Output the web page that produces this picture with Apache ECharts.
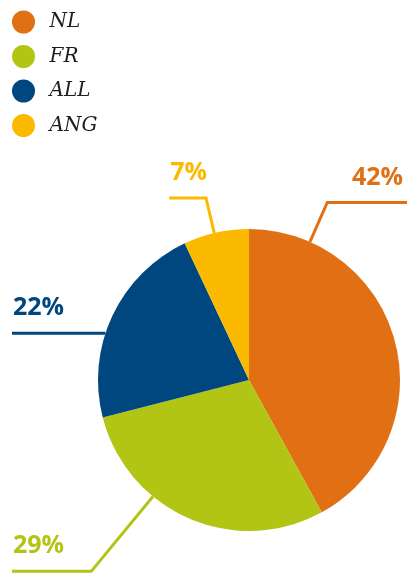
<!DOCTYPE html>
<html>
<head>
<meta charset="utf-8">
<script src="https://cdn.jsdelivr.net/npm/echarts@6/dist/echarts.min.js"></script>
<style>
  html, body { margin: 0; padding: 0; background: #fff; }
  #chart { width: 407px; height: 573px; }
</style>
</head>
<body>
<div id="chart"></div>
<script>
  const categories = ['NL', 'FR', 'ALL', 'ANG']
  const shares = [42, 29, 22, 7]
  const colors = ['#E07013', '#B2C414', '#00477F', '#FBBA00']

  // label guides: where the line leaves the pie (deg clockwise from 12 o'clock),
  // how far it runs outward, and whether the flat part runs to the chart edge
  const guideAngle = [23.8, 219.5, 288, -13.3]
  const guideLength = [43, 97, 0, 36]
  const guideToEdge = [true, true, true, false]

  const CENTER = [249, 380]
  const RADIUS = 151

  const chart = echarts.init(document.getElementById('chart'))

  chart.setOption({
    animation: false,
    color: colors,
    legend: {
      orient: 'vertical',
      left: 7,
      top: 5.5,
      icon: 'circle',
      itemWidth: 42,
      itemHeight: 23,
      itemGap: 11.5,
      selectedMode: false,
      data: categories,
      textStyle: {
        fontFamily: 'DejaVu Serif',
        fontStyle: 'italic',
        fontSize: 20,
        color: '#1e1e1e'
      }
    },
    series: [{
      type: 'pie',
      center: CENTER,
      radius: RADIUS,
      startAngle: 90,
      clockwise: true,
      avoidLabelOverlap: false,
      silent: true,
      itemStyle: { borderWidth: 0 },
      label: {
        show: true,
        formatter: '{c}%',
        fontFamily: 'Open Sans',
        fontWeight: 'bold',
        fontSize: 25
      },
      labelLine: {
        show: true,
        smooth: false,
        lineStyle: { width: 3 }
      },
      labelLayout: function (p) {
        const i = p.dataIndex
        const a = guideAngle[i] * Math.PI / 180
        const sx = CENTER[0] + RADIUS * Math.sin(a)
        const sy = CENTER[1] - RADIUS * Math.cos(a)
        const r2 = RADIUS + guideLength[i]
        const bx = CENTER[0] + r2 * Math.sin(a)
        const by = CENTER[1] - r2 * Math.cos(a)
        const right = Math.sin(a) > 0
        let ex
        if (guideToEdge[i]) {
          ex = right ? chart.getWidth() : 12
        } else {
          ex = right ? bx + p.labelRect.width : bx - p.labelRect.width
        }
        return {
          x: right ? ex - 4 : ex + 1,
          y: by - 25,
          align: right ? 'right' : 'left',
          verticalAlign: 'middle',
          labelLinePoints: [[sx, sy], [bx, by], [ex, by]]
        }
      },
      data: categories.map((name, i) => ({
        name: name,
        value: shares[i],
        label: { color: colors[i] },
        labelLine: { lineStyle: { color: colors[i], width: 3 } }
      }))
    }]
  })
</script>
</body>
</html>
